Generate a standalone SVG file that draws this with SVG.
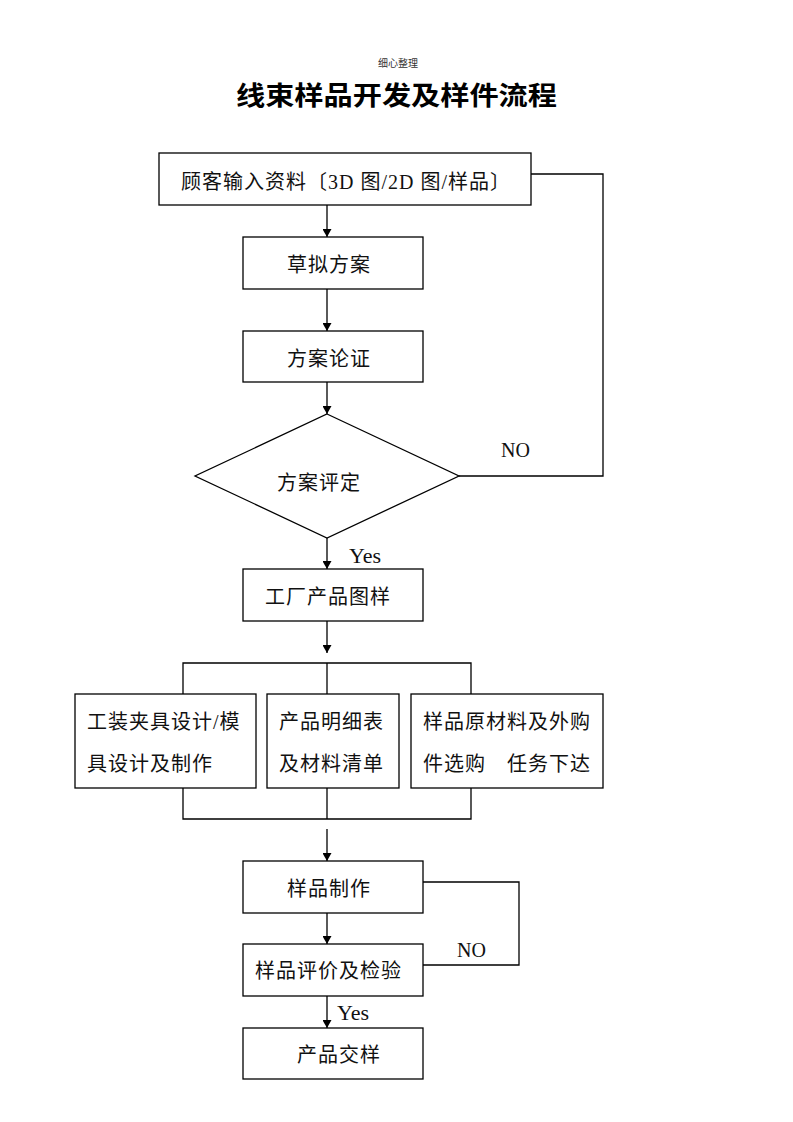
<svg xmlns="http://www.w3.org/2000/svg" width="793" height="1122" viewBox="0 0 793 1122">
<style>
.box{fill:#fff;stroke:#000;stroke-width:1.3}
.ln{fill:none;stroke:#000;stroke-width:1.3}
.t{font-family:"Liberation Serif","Noto Sans CJK SC",serif;font-size:20px;letter-spacing:1px;fill:#111}
.lbl{font-family:"Liberation Serif","Noto Sans CJK SC",serif;font-size:20px;fill:#111}
.yes{font-size:22px}
</style>
<defs>
<marker id="ah" markerUnits="userSpaceOnUse" markerWidth="8" markerHeight="9" refX="8" refY="4.5" orient="auto">
<path d="M0,0 L8,4.5 L0,9 z" fill="#000"/>
</marker>
</defs>
<rect width="793" height="1122" fill="#fff"/>
<text x="398" y="67" text-anchor="middle" style="font-family:'Noto Sans CJK SC',sans-serif;font-size:10px;fill:#333">细心整理</text>
<text x="236" y="105" textLength="321" lengthAdjust="spacingAndGlyphs" style="font-family:'Noto Sans CJK SC',sans-serif;font-size:26px;font-weight:bold;fill:#000">线束样品开发及样件流程</text>

<g id="connectors">
<line class="ln" x1="327" y1="205" x2="327" y2="237" marker-end="url(#ah)"/>
<line class="ln" x1="327" y1="289" x2="327" y2="331" marker-end="url(#ah)"/>
<line class="ln" x1="327" y1="382" x2="327" y2="414" marker-end="url(#ah)"/>
<line class="ln" x1="327" y1="538" x2="327" y2="569" marker-end="url(#ah)"/>
<polyline class="ln" points="459,476 603,476 603,174 531,174"/>
<line class="ln" x1="327" y1="621" x2="327" y2="653" marker-end="url(#ah)"/>
<polyline class="ln" points="183,694 183,663 471,663 471,694"/>
<line class="ln" x1="327" y1="663" x2="327" y2="694"/>
<polyline class="ln" points="183,788 183,819 471,819 471,788"/>
<line class="ln" x1="327" y1="788" x2="327" y2="819"/>
<line class="ln" x1="327" y1="829" x2="327" y2="861" marker-end="url(#ah)"/>
<line class="ln" x1="327" y1="913" x2="327" y2="944" marker-end="url(#ah)"/>
<polyline class="ln" points="423,882 519,882 519,965 423,965"/>
<line class="ln" x1="327" y1="996" x2="327" y2="1028" marker-end="url(#ah)"/>
<text class="lbl" x="501" y="457">NO</text>
<text class="lbl yes" x="349" y="563">Yes</text>
<text class="lbl" x="457" y="957">NO</text>
<text class="lbl yes" x="337" y="1020">Yes</text>
</g>

<g id="n1"><rect class="box" x="159" y="153" width="372" height="52"/><text class="t" x="181" y="189">顾客输入资料〔3D 图/2D 图/样品〕</text></g>
<g id="n2"><rect class="box" x="243" y="237" width="180" height="52"/><text class="t" x="287" y="272">草拟方案</text></g>
<g id="n3"><rect class="box" x="243" y="331" width="180" height="51"/><text class="t" x="287" y="366">方案论证</text></g>
<g id="n4"><polygon class="box" points="327,414 459,476 327,538 195,476"/><text class="t" x="277" y="490">方案评定</text></g>
<g id="n5"><rect class="box" x="243" y="569" width="180" height="52"/><text class="t" x="265" y="604">工厂产品图样</text></g>
<g id="n6"><rect class="box" x="75" y="694" width="181" height="94"/><text class="t" x="87" y="729">工装夹具设计/模</text><text class="t" x="87" y="771">具设计及制作</text></g>
<g id="n7"><rect class="box" x="267" y="694" width="132" height="94"/><text class="t" x="279" y="729">产品明细表</text><text class="t" x="279" y="771">及材料清单</text></g>
<g id="n8"><rect class="box" x="411" y="694" width="192" height="94"/><text class="t" x="423" y="729">样品原材料及外购</text><text class="t" x="423" y="771">件选购　任务下达</text></g>
<g id="n9"><rect class="box" x="243" y="861" width="180" height="52"/><text class="t" x="287" y="896">样品制作</text></g>
<g id="n10"><rect class="box" x="243" y="944" width="180" height="52"/><text class="t" x="255" y="978">样品评价及检验</text></g>
<g id="n11"><rect class="box" x="243" y="1028" width="180" height="51"/><text class="t" x="297" y="1062">产品交样</text></g>
</svg>
